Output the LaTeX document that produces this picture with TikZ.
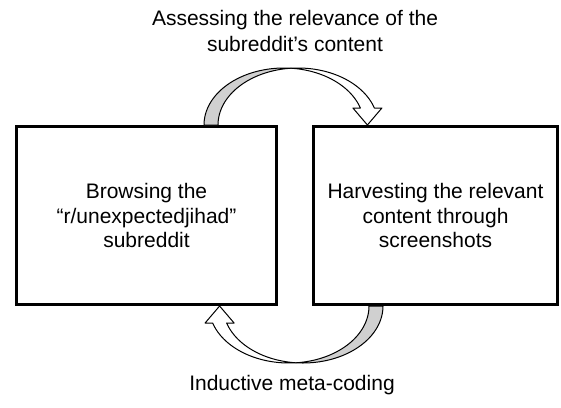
\documentclass[tikz,border=0pt]{standalone}
\usepackage{fontspec}
\setmainfont{Liberation Sans}
\usetikzlibrary{calc}
\definecolor{ribbon}{RGB}{208,208,208}
\tikzset{
    cycle chart/.style={
        x=1pt, y=-1pt,
        stage/.style={draw, line width=2.6pt, align=center, inner sep=0pt,
            minimum height=178pt, font=\fontsize{21}{24.5}\selectfont},
        caption/.style={align=center, font=\fontsize{21}{25.5}\selectfont},
        every pic/.style={line width=1pt, line join=round},
    },
    pics/bent arrow/.style={code={
        % back of the ribbon
        \draw[fill=ribbon]
            plot[domain=180:275, samples=40] ({-9.5+80*cos(\x)}, {-90.5+57*sin(\x)})
            -- plot[domain=265:180, samples=40] ({4.5+80*cos(\x)}, {-90.5+57*sin(\x)})
            -- cycle;
        % front of the ribbon with its head
        \draw[fill=white]
            plot[domain=275:342.65, samples=40] ({-9.5+80*cos(\x)}, {-90.5+57*sin(\x)})
            -- (59.4,-107.5) -- (73.9,-90.5) -- (88.4,-107.5)
            -- plot[domain=342.65:265, samples=40] ({4.5+80*cos(\x)}, {-90.5+57*sin(\x)})
            -- cycle;
    }},
}

\begin{document}
\begin{tikzpicture}[cycle chart]
    \useasboundingbox (0,0) rectangle (561,407);

    \node[stage, minimum width=260pt] (browse) at (146.5,215.5)
        {Browsing the\\“r/unexpectedjihad”\\subreddit};
    \node[stage, minimum width=244pt] (harvest) at (435.5,215.5)
        {Harvesting the relevant\\content through\\screenshots};

    \coordinate (hub) at ($(browse.east)!0.5!(harvest.west)+(-1.5,0)$);
    \pic at (hub) {bent arrow};
    \pic[rotate=180] at (hub) {bent arrow};

    \node[caption] (assess) at (295,31)
        {Assessing the relevance of the\\subreddit’s content};
    \node[caption] (code) at (292,385) {Inductive meta-coding};
\end{tikzpicture}
\end{document}
